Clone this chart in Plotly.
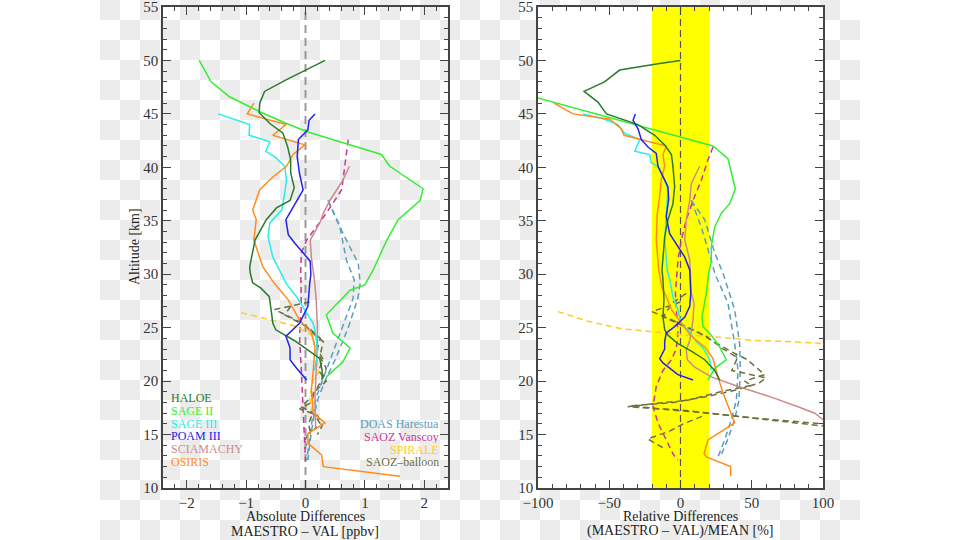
import base64
import plotly.graph_objects as go

# ---------------- data ----------------
# Absolute differences [ppbv] vs altitude [km]
haloe_alt_abs = [50.0, 49.1, 48.2, 47.1, 46.0, 45.1, 44.1, 43.2, 41.9, 40.7, 39.5, 38.1, 36.9, 36.2, 35.1, 33.2, 30.7, 30.1, 29.2, 28.7, 27.9, 26.7, 25.4, 24.8, 23.8, 22.6, 22.1, 21.0, 20.2]
haloe_abs = [0.33, 0.0, -0.32, -0.69, -0.77, -0.78, -0.60, -0.38, -0.30, -0.25, -0.25, -0.19, -0.26, -0.49, -0.66, -0.85, -0.94, -0.93, -0.89, -0.75, -0.61, -0.58, -0.55, -0.50, -0.19, 0.12, 0.24, 0.28, 0.28]

sage2_alt_abs = [50.0, 48.0, 46.6, 45.2, 44.1, 43.3, 42.2, 41.2, 40.1, 38.0, 36.9, 35.1, 33.2, 30.4, 29.0, 28.5, 26.2, 24.5, 23.1, 21.8, 20.4]
sage2_abs = [-1.79, -1.59, -1.28, -0.77, -0.32, 0.04, 0.69, 1.28, 1.42, 1.98, 1.93, 1.56, 1.37, 1.14, 1.0, 0.75, 0.35, 0.46, 0.75, 0.63, 0.35]

sage3_alt_abs = [45.0, 44.0, 43.0, 42.4, 41.5, 41.0, 40.1, 38.8, 37.6, 36.0, 34.8, 33.5, 31.6, 30.6, 29.1, 27.9, 26.3, 25.4, 24.2, 22.5, 21.0]
sage3_abs = [-1.47, -0.94, -0.95, -0.60, -0.67, -0.52, -0.35, -0.32, -0.35, -0.40, -0.60, -0.63, -0.55, -0.46, -0.32, -0.15, 0.02, 0.13, 0.18, 0.20, 0.15]

poam_alt_abs = [45.0, 44.4, 43.5, 42.6, 41.0, 39.4, 37.9, 36.8, 35.1, 33.7, 32.9, 32.0, 31.2, 30.0, 29.1, 27.0, 25.4, 24.2, 23.1, 22.0, 21.2, 20.1]
poam_abs = [0.16, 0.06, 0.04, -0.12, -0.14, -0.10, -0.04, -0.15, -0.33, -0.29, -0.18, -0.04, 0.08, 0.09, 0.07, 0.04, -0.10, -0.33, -0.26, -0.26, -0.15, 0.02]

scia_alt_abs = [40.1, 38.8, 36.9, 35.7, 34.8, 33.2, 31.5, 29.5, 27.6, 25.2, 23.5, 21.0, 18.5, 15.7]
scia_abs = [0.74, 0.63, 0.41, 0.30, 0.24, 0.08, 0.10, 0.15, 0.18, 0.20, 0.20, 0.18, 0.16, 0.17]

osiris_alt_abs = [46.0, 45.0, 44.0, 43.0, 42.1, 41.2, 40.1, 39.1, 37.9, 36.0, 35.1, 33.2, 30.7, 29.1, 27.6, 25.7, 24.5, 23.2, 21.0, 19.2, 17.0, 16.1, 15.1, 14.2, 13.1, 12.0, 11.1]
osiris_abs = [-0.87, -0.98, -0.33, -0.55, -0.01, -0.21, -0.32, -0.55, -0.77, -0.89, -0.83, -0.87, -0.72, -0.52, -0.29, -0.10, 0.10, 0.16, 0.13, 0.10, 0.13, 0.33, 0.04, 0.04, 0.27, 0.30, 1.59]

doas_a_alt_abs = [36.9, 34.4, 31.3, 29.5, 27.7, 25.0, 22.0, 20.4, 18.5, 16.7, 14.5, 12.6]
doas_a_abs = [0.38, 0.58, 0.69, 0.82, 0.80, 0.62, 0.42, 0.30, 0.18, 0.12, 0.06, 0.02]
doas_b_alt_abs = [36.9, 33.5, 31.0, 29.1, 27.7, 25.0, 22.0, 20.4, 18.5, 16.7, 14.5, 12.6]
doas_b_abs = [0.38, 0.66, 0.89, 0.92, 0.88, 0.72, 0.50, 0.36, 0.22, 0.14, 0.08, 0.04]

vanscoy_alt_abs = [42.6, 40.1, 37.9, 35.7, 34.4, 33.2, 32.0, 30.4, 27.1, 24.2, 21.0, 17.9, 14.8, 12.5]
vanscoy_abs = [0.72, 0.66, 0.61, 0.35, 0.18, 0.02, -0.07, -0.08, -0.07, -0.10, -0.07, -0.04, -0.02, 0.0]

spirale_alt_abs = [26.4, 25.7, 25.2, 24.6, 24.2, 22.3, 20.8, 20.1, 18.5, 17.5, 17.0]
spirale_abs = [-1.08, -0.55, -0.21, 0.02, 0.13, 0.18, 0.22, 0.13, 0.07, 0.10, 0.10]

saozb_a_alt_abs = [27.4, 26.7, 25.4, 24.2, 23.7, 22.3, 21.2, 20.4, 19.2, 18.2, 17.6, 17.0, 16.1, 15.5]
saozb_a_abs = [0.07, -0.52, -0.04, 0.18, 0.30, 0.24, 0.35, 0.30, 0.18, 0.04, -0.07, 0.13, 0.24, 0.15]
saozb_b_alt_abs = [27.0, 26.2, 25.0, 24.0, 23.0, 22.0, 21.0, 20.0, 19.0, 18.0, 17.4, 16.8, 15.8, 15.0]
saozb_b_abs = [-0.25, -0.35, 0.05, 0.25, 0.20, 0.30, 0.22, 0.35, 0.15, 0.10, -0.10, 0.20, 0.28, 0.20]
saozb_c_alt_abs = [16.7, 16.0, 15.3, 14.6, 14.0]
saozb_c_abs = [0.10, 0.05, 0.08, 0.00, 0.02]

# Relative differences [%] vs altitude [km]
haloe_alt_rel = [50.0, 49.7, 49.1, 48.0, 47.1, 46.1, 45.0, 44.0, 43.0, 42.1, 41.2, 40.1, 38.2, 36.6, 35.1, 33.5, 30.4, 29.5, 27.6, 26.0, 24.8, 24.3, 23.5, 22.8, 22.0, 21.0, 20.1]
haloe_rel = [0, -15.8, -42.7, -53.3, -67.7, -57.9, -52, -29.8, -18.1, -11.1, -6.4, -5.3, -4.1, -5.3, -8.8, -11.1, -13, -12.3, -11.6, -12.3, -11.1, -8.8, -1.8, 7.6, 17, 24, 27.5]

sage2_alt_rel = [50.0, 46.5, 42.0, 40.8, 38.0, 36.6, 35.7, 34.4, 32.6, 31.3, 30.1, 28.2, 26.0, 25.1, 24.3, 23.2, 22.0, 21.2, 20.1]
sage2_rel = [-196, -100, 22.8, 33.3, 38.5, 34.5, 28.6, 24, 21.6, 21.6, 19.8, 18.1, 15.1, 15.8, 21.6, 27.5, 32.1, 24, 19.3]

sage3_alt_rel = [45.0, 44.5, 44.0, 43.2, 42.6, 41.5, 41.2, 40.4, 40.1, 38.8, 37.9, 35.7, 33.2, 30.4, 29.5, 27.9, 26.7, 25.4, 24.6, 23.7, 23.1, 22.0, 21.0]
sage3_rel = [-68.4, -53.2, -43.9, -39.2, -28.6, -32.1, -21.6, -20.5, -15.8, -11.1, -8.8, -10, -11.1, -9.3, -7.6, -5.3, -1.8, 0.6, 6.5, 11.1, 15.8, 20.5, 21.6]

poam_alt_rel = [45.0, 44.4, 43.6, 42.6, 41.9, 41.3, 40.1, 39.1, 38.2, 37.0, 35.4, 33.8, 32.6, 31.6, 30.4, 28.2, 27.0, 26.0, 25.1, 24.5, 23.7, 23.0, 22.1, 21.7, 20.6, 20.1]
poam_rel = [-31.7, -33.3, -29.8, -27.5, -22.8, -17, -15.8, -12.3, -8.8, -8.3, -10, -7.6, -1.8, 3, 6.5, 7.2, 6.5, 3, -4.1, -10, -11.1, -11.1, -14.6, -12.3, -1.8, 8.8]

scia_alt_rel = [40.1, 39.4, 38.5, 36.9, 35.1, 33.2, 31.3, 28.2, 27.3, 25.7, 24.5, 23.8, 22.9, 22.0, 21.3, 20.4, 19.5, 18.5, 17.6, 17.0, 16.4, 16.0]
scia_rel = [13.5, 11.1, 7.6, 6.5, 4.1, 3, 6.5, 7.6, 9.5, 8.8, 7.6, 6.5, 4.1, 4.8, 10, 21.6, 40.4, 63.7, 82.5, 94.2, 100, 110]

osiris_alt_rel = [46.0, 45.0, 44.5, 43.6, 43.0, 42.0, 41.2, 40.1, 38.8, 37.3, 35.7, 33.2, 30.4, 28.8, 27.9, 26.7, 25.4, 24.2, 23.2, 22.1, 20.4, 18.9, 17.3, 16.1, 15.4, 14.5, 13.2, 12.9, 12.0, 11.1]
osiris_rel = [-88.8, -75.4, -49.7, -41.5, -39.6, -10, -12.3, -11.1, -13.5, -14.6, -16.3, -17, -15.3, -13, -10, -6.4, 0.6, 7.6, 17, 22.8, 26.3, 29.8, 34.5, 38, 29.8, 19.3, 16.5, 18.1, 35.2, 35.2]

doas_a_alt_rel = [36.9, 34.4, 31.3, 30.1, 27.3, 23.5, 21.0, 18.2, 16.4, 14.5, 12.9]
doas_a_rel = [7.6, 14.6, 21.6, 24, 33.3, 38, 40.4, 39.2, 35.7, 31, 26.3]
doas_b_alt_rel = [36.9, 35.1, 32.0, 30.1, 26.7, 23.5, 21.0, 18.2, 16.4, 14.5, 12.9]
doas_b_rel = [7.6, 17, 24, 29.8, 38, 41.5, 42, 41, 38, 33, 28]

vanscoy_alt_rel = [41.9, 40.7, 38.8, 36.9, 35.1, 33.2, 31.3, 28.2, 24.5, 23.0, 22.0, 21.0, 19.5, 17.6, 16.1, 14.5, 13.2, 12.6]
vanscoy_rel = [22.8, 19.3, 14.6, 8.8, 4.1, 0.6, -1.8, -3.6, -1.8, -3, -6.4, -12.3, -17, -19.3, -15.8, -10, -5.3, -1.8]

spirale_alt_rel = [26.5, 25.6, 24.9, 24.6, 24.3, 24.1, 23.8, 23.7, 23.5, 23.3]
spirale_rel = [-86, -65, -41.5, -18, 5.3, 28.6, 52, 75.4, 100, 130]

saozb_a_alt_rel = [27.4, 26.5, 25.5, 24.6, 23.8, 22.8, 22.0, 20.6, 20.0, 19.6, 19.0, 18.2, 17.9, 17.6, 17.3, 16.7, 16.2, 15.8, 15.5]
saozb_a_rel = [0, -20, -2, 12, 22, 35, 47, 59, 45, 50, 28, 5, -19, -37, 0, 40, 70, 100, 120]
saozb_b_alt_rel = [28.2, 27.3, 26.0, 25.0, 24.2, 23.0, 22.2, 21.0, 20.3, 19.8, 19.2, 18.6, 18.0, 17.7, 17.4, 17.0, 16.5, 16.0, 15.7]
saozb_b_rel = [4, -6, -12, 5, 18, 30, 40, 36, 60, 55, 40, 20, -5, -35, -15, 20, 55, 100, 125]
saozb_c_alt_rel = [16.7, 16.0, 15.3, 14.6, 14.2, 13.6]
saozb_c_rel = [15, 2, -8, -23, -18, -10]

legend_left = ["HALOE", "SAGE II", "SAGE III", "POAM III", "SCIAMACHY", "OSIRIS"]
legend_right = ["DOAS Harestua", "SAOZ Vanscoy", "SPIRALE", "SAOZ\u2013balloon"]

# ---------------- styles ----------------
C_HALOE, C_SAGE2, C_SAGE3, C_POAM = "#2a7a2a", "#33ee33", "#22eeee", "#2222ee"
C_SCIA, C_OSIRIS = "#cc8a8a", "#ff8c1a"
C_DOAS, C_VANS, C_SPIR, C_SAOZB = "#5a9ebe", "#c8379a", "#ffcc22", "#6e6e40"
FONT = "Liberation Serif"
DASH = "6px,4px"

fig = go.Figure()

def add(x, y, color, dash=None, axis=1, width=1.5):
    fig.add_trace(go.Scatter(
        x=x, y=y, mode="lines",
        line=dict(color=color, width=width, dash=dash if dash else "solid"),
        xaxis="x" if axis == 1 else "x2", yaxis="y" if axis == 1 else "y2",
        showlegend=False, hoverinfo="skip", cliponaxis=True))

# left panel
add(doas_a_abs, doas_a_alt_abs, C_DOAS, DASH)
add(doas_b_abs, doas_b_alt_abs, C_DOAS, DASH)
add(vanscoy_abs, vanscoy_alt_abs, C_VANS, DASH)
add(spirale_abs, spirale_alt_abs, C_SPIR, DASH)
add(saozb_a_abs, saozb_a_alt_abs, C_SAOZB, DASH)
add(saozb_b_abs, saozb_b_alt_abs, C_SAOZB, DASH)
add(saozb_c_abs, saozb_c_alt_abs, C_SAOZB, DASH)
add(scia_abs, scia_alt_abs, C_SCIA)
add(sage2_abs, sage2_alt_abs, C_SAGE2)
add(sage3_abs, sage3_alt_abs, C_SAGE3)
add(osiris_abs, osiris_alt_abs, C_OSIRIS)
add(haloe_abs, haloe_alt_abs, C_HALOE)
add(poam_abs, poam_alt_abs, C_POAM)

# right panel
add(doas_a_rel, doas_a_alt_rel, C_DOAS, DASH, 2)
add(doas_b_rel, doas_b_alt_rel, C_DOAS, DASH, 2)
add(vanscoy_rel, vanscoy_alt_rel, C_VANS, DASH, 2)
add(spirale_rel, spirale_alt_rel, C_SPIR, DASH, 2)
add(saozb_a_rel, saozb_a_alt_rel, C_SAOZB, DASH, 2)
add(saozb_b_rel, saozb_b_alt_rel, C_SAOZB, DASH, 2)
add(saozb_c_rel, saozb_c_alt_rel, C_SAOZB, DASH, 2)
add(scia_rel, scia_alt_rel, C_SCIA, None, 2)
add(sage2_rel, sage2_alt_rel, C_SAGE2, None, 2)
add(sage3_rel, sage3_alt_rel, C_SAGE3, None, 2)
add(osiris_rel, osiris_alt_rel, C_OSIRIS, None, 2)
add(haloe_rel, haloe_alt_rel, C_HALOE, None, 2)
add(poam_rel, poam_alt_rel, C_POAM, None, 2)

# ---------------- checkerboard background (transparent-image look) ----------------
svg = ("<svg xmlns='http://www.w3.org/2000/svg' width='960' height='540'>"
       "<defs><pattern id='p' width='40' height='40' patternUnits='userSpaceOnUse'>"
       "<rect width='40' height='40' fill='#ffffff'/>"
       "<rect x='20' y='0' width='20' height='20' fill='#ececec'/>"
       "<rect x='0' y='20' width='20' height='20' fill='#ececec'/>"
       "</pattern></defs><rect width='960' height='540' fill='#ffffff'/>"
       "<rect x='100' y='0' width='760' height='540' fill='url(#p)'/></svg>")
src = "data:image/svg+xml;base64," + base64.b64encode(svg.encode()).decode()

dom_y = [1 - 488 / 540, 1 - 7 / 540]
ax_common = dict(showline=True, linecolor="#444444", linewidth=1.5, mirror="ticks",
                 ticks="inside", ticklen=8, tickcolor="#444444", tickwidth=1,
                 showgrid=False, zeroline=False, automargin=False,
                 ticklabeloverflow="allow",
                 tickfont=dict(family=FONT, size=15, color="#333333"))
minor_common = dict(ticklen=4, ticks="inside", tickcolor="#444444")

fig.update_layout(
    width=960, height=540, autosize=False,
    margin=dict(l=0, r=0, t=0, b=0, autoexpand=False),
    paper_bgcolor="white", plot_bgcolor="rgba(0,0,0,0)",
    images=[dict(source=src, xref="paper", yref="paper", x=0, y=1, sizex=1, sizey=1,
                 sizing="stretch", layer="below", xanchor="left", yanchor="top")],
    xaxis=dict(domain=[163 / 960, 448 / 960], range=[-2.4, 2.4], anchor="y",
               tickvals=[-2, -1, 0, 1, 2], minor=dict(dtick=0.2, **minor_common),
               **ax_common),
    yaxis=dict(domain=dom_y, range=[10, 55], anchor="x", tickvals=list(range(10, 56, 5)),
               minor=dict(dtick=1, **minor_common), **ax_common),
    xaxis2=dict(domain=[538 / 960, 823 / 960], range=[-100, 100], anchor="y2",
                tickvals=[-100, -50, 0, 50, 100], minor=dict(dtick=10, **minor_common),
                **ax_common),
    yaxis2=dict(domain=dom_y, range=[10, 55], anchor="x2", tickvals=list(range(10, 56, 5)),
                minor=dict(dtick=1, **minor_common), **ax_common),
    shapes=[
        dict(type="rect", xref="x2 domain", yref="y2 domain", x0=0, x1=1, y0=0, y1=1,
             fillcolor="white", line=dict(width=0), layer="below"),
        dict(type="rect", xref="x2", yref="y2 domain", x0=-20, x1=20, y0=0, y1=1,
             fillcolor="#ffff00", line=dict(width=0), layer="below"),
        dict(type="line", xref="x", yref="y domain", x0=0, x1=0, y0=0, y1=1,
             line=dict(color="#999999", width=2, dash="8px,5px"), layer="below"),
        dict(type="line", xref="x2", yref="y2 domain", x0=0, x1=0, y0=0, y1=1,
             line=dict(color="#555555", width=1.2, dash="7px,4px"), layer="below"),
    ],
)

# axis titles (placed as text in pixel-matched positions)
def ptext(text, x, y, size=14, angle=0):
    fig.add_annotation(text=text, xref="paper", yref="paper", x=x / 960, y=1 - y / 540,
                       xanchor="center", yanchor="middle", showarrow=False, textangle=angle,
                       font=dict(family=FONT, size=size, color="#222222"))

ptext("Absolute Differences", 305, 516)
ptext("MAESTRO \u2013 VAL [ppbv]", 305, 531)
ptext("Relative Differences", 680, 516)
ptext("(MAESTRO \u2013 VAL)/MEAN [%]", 680, 531)
ptext("Altitude [km]", 134, 247, angle=-90)

# coloured text legends
left_cols = [C_HALOE, C_SAGE2, C_SAGE3, C_POAM, C_SCIA, C_OSIRIS]
right_cols = [C_DOAS, C_VANS, C_SPIR, C_SAOZB]
for i, (t, c) in enumerate(zip(legend_left, left_cols)):
    fig.add_annotation(text=t, xref="paper", yref="paper", x=169 / 960,
                       y=1 - (398 + i * 12.8) / 540, xanchor="left", yanchor="middle",
                       showarrow=False, height=12,
                       font=dict(family=FONT, size=12, color=c))
for i, (t, c) in enumerate(zip(legend_right, right_cols)):
    fig.add_annotation(text=t, xref="paper", yref="paper", x=441 / 960,
                       y=1 - (424 + i * 12.8) / 540, xanchor="right", yanchor="middle",
                       showarrow=False, height=12,
                       font=dict(family=FONT, size=12, color=c))

fig.write_html("out.html", config={"displayModeBar": False},
               post_script="document.body.style.margin='0px';")
